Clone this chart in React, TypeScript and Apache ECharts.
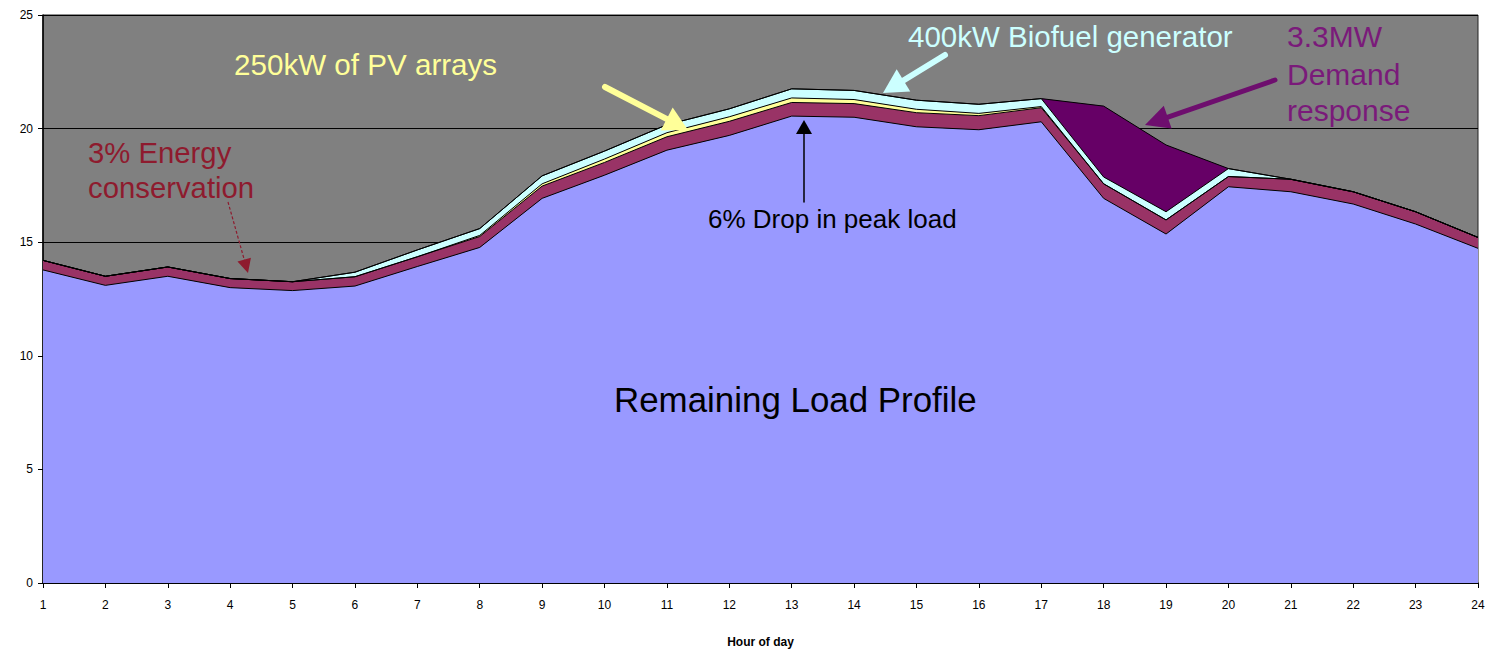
import React, { useEffect, useRef } from "react";
import * as echarts from "echarts";

const hours = ["1","2","3","4","5","6","7","8","9","10","11","12","13","14","15","16","17","18","19","20","21","22","23","24"];
const remainingLoad = [13.78, 13.1, 13.5, 13.0, 12.87, 13.07, 13.93, 14.77, 16.93, 17.95, 19.05, 19.7, 20.55, 20.5, 20.08, 19.95, 20.3, 16.93, 15.36, 17.44, 17.22, 16.68, 15.8, 14.73];
const energyConservation = [0.42, 0.4, 0.41, 0.4, 0.39, 0.41, 0.43, 0.48, 0.54, 0.56, 0.59, 0.62, 0.6, 0.6, 0.62, 0.62, 0.62, 0.64, 0.62, 0.45, 0.55, 0.54, 0.54, 0.48];
const pvArrays = [0, 0, 0, 0, 0, 0, 0, 0.05, 0.1, 0.15, 0.18, 0.2, 0.2, 0.18, 0.15, 0.1, 0.05, 0, 0, 0, 0, 0, 0, 0];
const biofuelGenerator = [0, 0, 0, 0, 0, 0.2, 0.3, 0.3, 0.35, 0.35, 0.35, 0.35, 0.4, 0.4, 0.4, 0.4, 0.35, 0.3, 0.36, 0.35, 0, 0, 0, 0];
const demandResponse = [0, 0, 0, 0, 0, 0, 0, 0, 0, 0, 0, 0, 0, 0, 0, 0, 0, 3.12, 2.94, 0, 0, 0, 0, 0];
const yTicks = { min: 0, max: 25, interval: 5 };

const FONT = "'Liberation Sans', Arial, sans-serif";

function arrow(x1: number, y1: number, x2: number, y2: number, color: string, width: number, headLen: number, headW: number, dashed = false) {
  const dx = x2 - x1, dy = y2 - y1;
  const len = Math.sqrt(dx * dx + dy * dy);
  const ux = dx / len, uy = dy / len;
  const bx = x2 - ux * headLen, by = y2 - uy * headLen;
  const px = -uy, py = ux;
  return [
    { type: "line", shape: { x1, y1, x2: bx + ux * 2, y2: by + uy * 2 }, style: { stroke: color, lineWidth: width, lineCap: dashed ? "butt" : "round", lineDash: dashed ? [3, 2] : null }, z: 100 },
    { type: "polygon", shape: { points: [[x2, y2], [bx + px * headW / 2, by + py * headW / 2], [bx - px * headW / 2, by - py * headW / 2]] }, style: { fill: color }, z: 100 },
  ];
}

function label(text: string, x: number, y: number, color: string, size: number) {
  return { type: "text", x, y, z: 100, style: { text, fill: color, font: `${size}px ${FONT}`, textAlign: "left", textVerticalAlign: "middle" } };
}

export default function App() {
  const ref = useRef<HTMLDivElement>(null);
  useEffect(() => {
    if (!ref.current) return;
    const chart = echarts.init(ref.current, null, { renderer: "svg" });
    const mk = (name: string, data: number[], color: string) => ({
      name, type: "line", stack: "total", data, symbol: "none", smooth: false,
      lineStyle: { color: "#000", width: 1 },
      areaStyle: { color, opacity: 1 },
    });
    chart.setOption({
      animation: false,
      grid: { left: 43, right: 11, top: 15, bottom: 66, show: true, backgroundColor: "#808080", borderColor: "#222", borderWidth: 1, containLabel: false, outerBoundsMode: "none" },
      xAxis: {
        type: "category", data: hours, boundaryGap: false,
        name: "Hour of day", nameLocation: "middle", nameGap: 53,
        nameTextStyle: { fontFamily: FONT, fontSize: 12, fontWeight: "bold", color: "#000" },
        axisLine: { lineStyle: { color: "#000", width: 1.5 } },
        axisTick: { show: true, length: 5, lineStyle: { color: "#000" }, alignWithLabel: true },
        axisLabel: { fontFamily: FONT, fontSize: 12, color: "#000", margin: 16 },
        splitLine: { show: false },
      },
      yAxis: {
        type: "value", min: yTicks.min, max: yTicks.max, interval: yTicks.interval,
        axisLine: { show: true, lineStyle: { color: "#000", width: 1.5 } },
        axisTick: { show: true, length: 5, lineStyle: { color: "#000" } },
        axisLabel: { fontFamily: FONT, fontSize: 12, color: "#000", margin: 10 },
        splitLine: { show: true, lineStyle: { color: "#000", width: 1 } },
      },
      series: [
        mk("Remaining Load Profile", remainingLoad, "#9999FF"),
        mk("3% Energy conservation", energyConservation, "#993366"),
        mk("250kW of PV arrays", pvArrays, "#FFFF99"),
        mk("400kW Biofuel generator", biofuelGenerator, "#CCFFFF"),
        mk("3.3MW Demand response", demandResponse, "#660066"),
      ],
      graphic: [
        label("250kW of PV arrays", 234, 64, "#FFFF99", 29.6),
        label("400kW Biofuel generator", 908, 36, "#CCFFFF", 29.5),
        label("3.3MW", 1287, 36, "#7A1A7A", 30),
        label("Demand", 1287, 74, "#7A1A7A", 30),
        label("response", 1287, 110, "#7A1A7A", 30),
        label("3% Energy", 88, 152, "#8E1B2E", 29.3),
        label("conservation", 88, 187, "#8E1B2E", 29.3),
        label("6% Drop in peak load", 708, 219, "#000", 26),
        label("Remaining Load Profile", 614, 399, "#000", 34.9),
        ...arrow(605, 87, 688, 130, "#FFFF99", 6, 24, 26),
        ...arrow(945, 55, 883, 93, "#CCFFFF", 6, 24, 26),
        ...arrow(1275, 80, 1145, 125, "#6E0E6E", 5, 24, 24),
        ...arrow(804, 202, 804, 120, "#000", 1.5, 14, 16),
        ...arrow(228, 202, 248, 273, "#8E1B2E", 1.2, 14, 14, true),
      ],
    });
    return () => chart.dispose();
  }, []);
  return <div ref={ref} style={{ position: "fixed", left: 0, top: 0, width: 1489, height: 649, background: "#fff" }} />;
}
